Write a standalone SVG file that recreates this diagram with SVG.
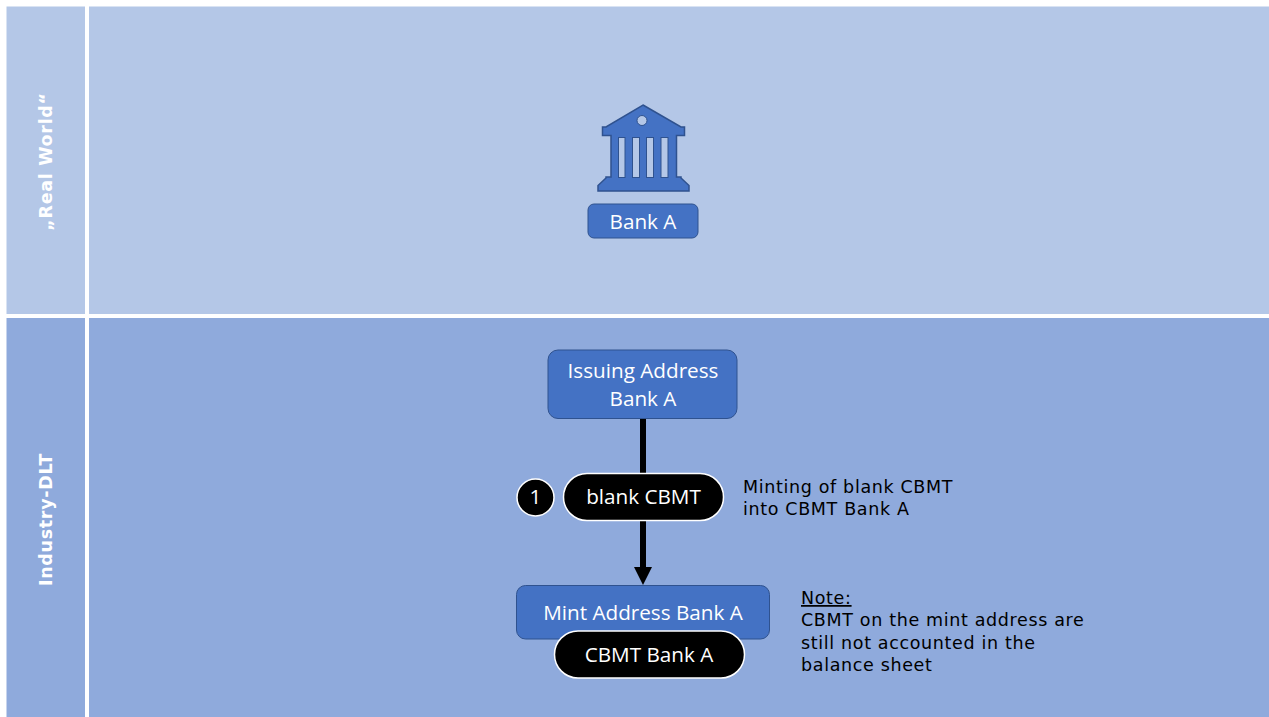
<svg xmlns="http://www.w3.org/2000/svg" width="1269" height="717" viewBox="0 0 1269 717">
<style>
.t{font-family:"DejaVu Sans",Verdana,sans-serif}
.n{font-family:"Open Sans",sans-serif;font-size:20.700px;fill:#fff;text-anchor:middle}
.s{font-size:17.500px;letter-spacing:.65px;fill:#000}
.v{font-size:17.500px;letter-spacing:.7px;font-weight:bold;fill:#fff;text-anchor:middle}
.b{fill:#4472c4;stroke:#2f528f;stroke-width:1}
.p{fill:#000;stroke:#fff;stroke-width:1.5}
.lane1{fill:#b4c7e7}.lane2{fill:#8faadc}
</style>
<defs><marker id="arrow" markerUnits="userSpaceOnUse" markerWidth="18" markerHeight="18" refX="3" refY="9" orient="auto"><path d="M0 0L18 9L0 18Z" fill="#000"/></marker></defs>
<rect width="1269" height="717" fill="#fff"/>
<g id="lanes">
<rect class="lane1" x="6.500" y="6.500" width="78.500" height="307.500"/>
<rect class="lane1" x="89" y="6.500" width="1180" height="307.500"/>
<rect class="lane2" x="6.500" y="318" width="78.500" height="399"/>
<rect class="lane2" x="89" y="318" width="1180" height="399"/>
<text class="t v" transform="translate(51.500 161.500) rotate(-90)">„Real World“</text>
<text class="t v" transform="translate(51.500 519.500) rotate(-90)">Industry-DLT</text>
</g>
<g id="connectors">
<line x1="643" y1="419" x2="643" y2="474" stroke="#000" stroke-width="6"/>
<line x1="643" y1="520" x2="643" y2="570" stroke="#000" stroke-width="6" marker-end="url(#arrow)"/>
</g>
<g id="bank-icon">
<path class="b" style="stroke-width:1.500" d="M643 105L681 127H684.500V135.500H676.500V177H681V178L689 185.500V191H598V185.500L606 178V177H611V135.500H602.500V127H606Z"/>
<g fill="#b4c7e7" stroke="#2f528f" stroke-width="1">
<rect x="618.500" y="137.500" width="6.500" height="40"/><rect x="632.500" y="137.500" width="7" height="40"/><rect x="646.500" y="137.500" width="7" height="40"/><rect x="661" y="137.500" width="7" height="40"/>
<circle cx="642" cy="120.500" r="5"/>
</g>
</g>
<g id="bank-a"><rect class="b" x="588" y="204" width="110" height="34" rx="6"/><text class="t n" x="643" y="229">Bank A</text></g>
<g id="issuing"><rect class="b" x="548" y="350" width="189" height="68.500" rx="10"/><text class="t n" x="643" y="378">Issuing Address</text><text class="t n" x="643" y="406">Bank A</text></g>
<g id="blank-cbmt"><rect class="p" x="563.500" y="473.500" width="160" height="47" rx="23.500"/><text class="t n" x="643.500" y="504">blank CBMT</text></g>
<g id="step-1"><circle class="p" cx="535.500" cy="497.500" r="18.500"/><text class="t n" x="535.500" y="504">1</text></g>
<g id="mint"><rect class="b" x="516.500" y="585.500" width="253" height="53.500" rx="9"/><text class="t n" x="643" y="620">Mint Address Bank A</text></g>
<g id="cbmt-a"><rect class="p" x="554.500" y="631" width="190" height="47" rx="23.500"/><text class="t n" x="649" y="662">CBMT Bank A</text></g>
<g id="minting-label"><text class="t s" x="743" y="493">Minting of blank CBMT</text><text class="t s" x="743" y="515">into CBMT Bank A</text></g>
<g id="note"><text class="t s" x="801" y="604" text-decoration="underline">Note:</text><text class="t s" x="801" y="626">CBMT on the mint address are</text><text class="t s" x="801" y="649">still not accounted in the</text><text class="t s" x="801" y="671">balance sheet</text></g>
</svg>
